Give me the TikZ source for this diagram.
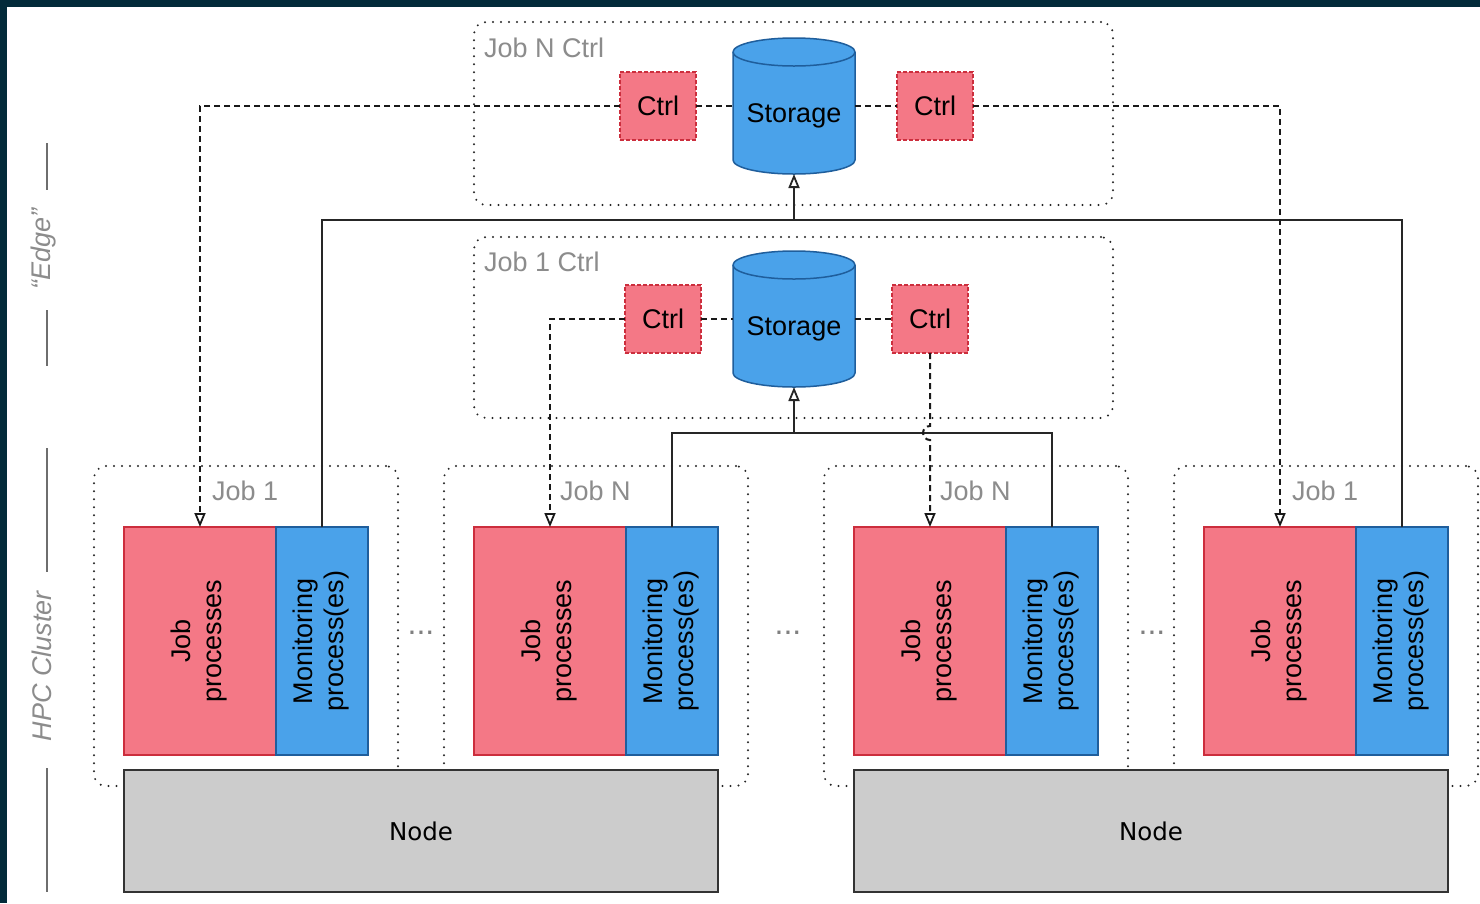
\documentclass[tikz,border=0pt]{standalone}
\usepackage{fontspec}
\setmainfont{Liberation Sans}
\newfontfamily\hostfont{DejaVu Sans}
\usetikzlibrary{arrows.meta}

\definecolor{bgdark}{HTML}{032B3A}
\definecolor{jobpink}{HTML}{F47886}
\definecolor{jobred}{HTML}{CC2E3D}
\definecolor{monblue}{HTML}{4AA2EA}
\definecolor{monedge}{HTML}{1F5E9C}
\definecolor{hostgray}{HTML}{CCCCCC}
\definecolor{labelgray}{HTML}{8C8C8C}
\definecolor{sidegray}{HTML}{6E6E6E}

\newcommand\bigfont{\fontsize{27}{31}\selectfont}

\tikzset{
  every node/.style={inner sep=0pt, outer sep=0pt},
  grp/.style={draw=black!85, line width=2.2pt, line cap=round,
    dash pattern=on 0pt off 8pt, rounded corners=12pt},
  grplabel/.style={text=labelgray, font=\bigfont, anchor=base west},
  ctrlbox/.style={fill=jobpink, draw=jobred, line width=1.5pt,
    dash pattern=on 4pt off 2pt, minimum width=76, minimum height=68, font=\bigfont},
  storeshape/.style={minimum width=122, minimum height=136},
  jobbox/.style={fill=jobpink, draw=jobred, line width=1.5pt,
    minimum width=152, minimum height=228, font=\bigfont},
  monbox/.style={fill=monblue, draw=monedge, line width=1.5pt,
    minimum width=92, minimum height=228, font=\bigfont},
  hostbox/.style={fill=hostgray, draw=black!80, line width=2pt,
    minimum width=594, minimum height=122, font=\hostfont\fontsize{24.5}{28}\selectfont},
  tip/.style={-{Triangle[open, length=14pt, width=11pt, line width=1.8pt]}},
  ctl/.style={line width=2pt, draw=black!90, dash pattern=on 6pt off 4pt},
  bus/.style={line width=2.2pt, draw=black!85},
  sideline/.style={line width=1.5pt, draw=sidegray},
  sidelabel/.style={rotate=90, text=labelgray, font=\itshape\bigfont},
  more/.style={text=black!50, font=\fontsize{32}{32}\selectfont}
}

% storage cylinder centred at (#1,#2), 122 wide and 136 high
\newcommand\storagebody[2]{%
  \path[fill=monblue, draw=monedge, line width=1.5pt]
    ({#1-61},{#2-54}) -- ({#1-61},{#2+54})
    arc[start angle=180, end angle=360, x radius=61pt, y radius=14pt]
    -- ({#1+61},{#2-54})
    arc[start angle=0, end angle=180, x radius=61pt, y radius=14pt] -- cycle;
  \draw[monedge, line width=1.5pt] ({#1-61},{#2-54})
    arc[start angle=180, end angle=360, x radius=61pt, y radius=14pt];
}

\newcommand\rottext[1]{\rotatebox{90}{\begin{tabular}{@{}c@{}}#1\end{tabular}}}

\begin{document}
\begin{tikzpicture}[x=1pt, y=-1pt]
\useasboundingbox (0,0) rectangle (1480,903);
\fill[bgdark] (0,0) rectangle (1480,903);
\fill[white] (7,7) rectangle (1480,903);

% side annotations
\node[sidelabel] (edge) at (44,249) {“Edge”};
\draw[sideline] (47,143) -- (47,190);
\draw[sideline] (47,310) -- (47,366);
\node[sidelabel] (hpc) at (42,666) {HPC Cluster};
\draw[sideline] (47,448) -- (47,572);
\draw[sideline] (47,768) -- (47,892);

% control groups
\node[grp, minimum width=639, minimum height=183] (gN) at (793.5,113.5) {};
\node[grplabel] (gNl) at (484,57) {Job N Ctrl};
\node[grp, minimum width=639, minimum height=181] (g1) at (793.5,327.5) {};
\node[grplabel] (g1l) at (484,271) {Job 1 Ctrl};

% job groups
\foreach \cx/\lx/\lab/\nm in {246/212/Job 1/ja, 596/560/Job N/jb, 976/940/Job N/jc, 1326/1292/Job 1/jd}{
  \node[grp, minimum width=304, minimum height=320] (\nm) at (\cx,626) {};
  \node[grplabel] (\nm l) at (\lx,500) {\lab};
}

% storage
\storagebody{794}{106}
\node[storeshape] (sN) at (794,106) {};
\node[anchor=base, font=\bigfont] (sNt) at (794,122) {Storage};
\storagebody{794}{319}
\node[storeshape] (s1) at (794,319) {};
\node[anchor=base, font=\bigfont] (s1t) at (794,335) {Storage};

% controllers
\node[ctrlbox] (cNL) at (658,106) {Ctrl};
\node[ctrlbox] (cNR) at (935,106) {Ctrl};
\node[ctrlbox] (c1L) at (663,319) {Ctrl};
\node[ctrlbox] (c1R) at (930,319) {Ctrl};

% processes
\foreach \jx/\mx/\i in {200/322/1, 550/672/2, 930/1052/3, 1280/1402/4}{
  \node[jobbox] (jp\i) at (\jx,641) {\rottext{Job\\processes}};
  \node[monbox] (mon\i) at (\mx,641) {\rottext{Monitoring\\process(es)}};
}

\node[more] (d1) at (421,633) {...};
\node[more] (d2) at (788,633) {...};
\node[more] (d3) at (1152,633) {...};

% hosts
\node[hostbox] (h1) at (421,831) {Node};
\node[hostbox] (h2) at (1151,831) {Node};

% monitoring data to storage
\coordinate (busN) at (794,220);
\draw[bus] (mon1.north) |- (busN) -| (mon4.north);
\draw[bus, tip] (busN) -- (sN.south);
\coordinate (bus1) at (794,433);
\draw[bus] (mon2.north) |- (bus1) -| (mon3.north);
\draw[bus, tip] (bus1) -- (s1.south);

% control links
\draw[ctl, tip] (cNL.west) -| (jp1.north);
\draw[ctl] (cNL.east) -- (sN.west);
\draw[ctl] (sN.east) -- (cNR.west);
\draw[ctl, tip] (cNR.east) -| (jp4.north);
\draw[ctl, tip] (c1L.west) -| (jp2.north);
\draw[ctl] (c1L.east) -- (s1.west);
\draw[ctl] (s1.east) -- (c1R.west);
\coordinate (hop) at (c1R.south |- bus1);
\draw[ctl, tip] (c1R.south) -- ([yshift=7pt]hop)
  arc[start angle=90, end angle=270, radius=7pt] -- (jp3.north);
\end{tikzpicture}
\end{document}
